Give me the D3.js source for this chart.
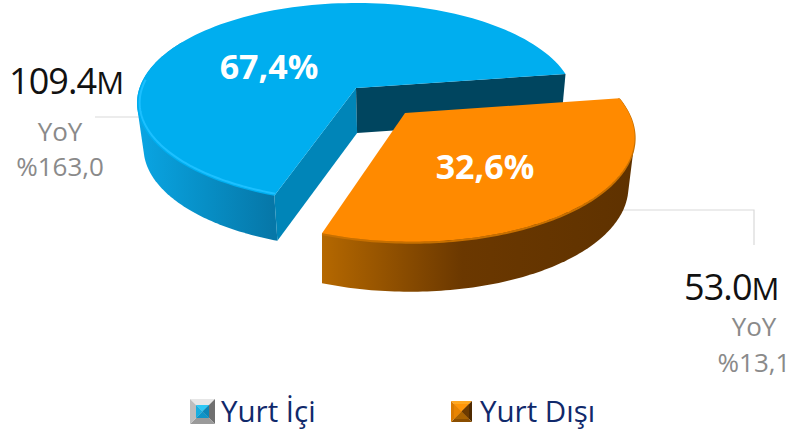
<!DOCTYPE html>
<html>
<head>
<meta charset="utf-8">
<script src="https://cdn.jsdelivr.net/npm/d3@7"></script>
<style>
  html, body { margin: 0; padding: 0; background: #fff; }
  svg { display: block; }
  text { font-family: "Open Sans", sans-serif; }
</style>
</head>
<body>
<svg id="chart"></svg>
<script>
// data
const categories = ["Yurt İçi", "Yurt Dışı"];
const shares = [67.4, 32.6];
const amounts = ["109.4", "53.0"];
const yoyLabels = ["%163,0", "%13,1"];

const width = 795;
const height = 433;
const deg = Math.PI / 180;

const svg = d3.select("#chart").attr("width", width).attr("height", height);
const defs = svg.append("defs");

// pie layout, the blue slice starts at the lower cut and goes round clockwise
const pieStart = 198.9 * deg;
const slices = d3.pie().sort(null).startAngle(pieStart).endAngle(pieStart + 2 * Math.PI)(shares);

// perspective view of the pie disc, one per slice because orange is pulled out
const views = [
  {x0: 356, y0: 88, a: 216.5, s: 0, b: 97.75, k: 0.15, depth: 45, vx: 400, shrink: 0.975},
  {x0: 405, y0: 113, a: 223.8, s: -5.5, b: 103, k: 0.2, depth: 50, vx: 322, shrink: 0.98}
];

function project(view, angle, lower) {
  const u = Math.sin(angle);
  const v = Math.cos(angle);
  const w = 1 + view.k * v;
  const x = view.x0 + (view.a * u + view.s * v) / w;
  const y = view.y0 - view.b * v / w;
  return lower ? [view.vx + (x - view.vx) * view.shrink, y + view.depth] : [x, y];
}

function arcPoints(view, a0, a1, lower) {
  return d3.range(0, 121).map(i => project(view, a0 + (a1 - a0) * i / 120, lower));
}

const line = d3.line();
const closed = pts => line(pts) + "Z";

function wallGradient(id, x1, x2, stops) {
  const g = defs.append("linearGradient").attr("id", id)
    .attr("gradientUnits", "userSpaceOnUse")
    .attr("x1", x1).attr("x2", x2).attr("y1", 0).attr("y2", 0);
  stops.forEach(d => g.append("stop").attr("offset", d[0]).attr("stop-color", d[1]));
}
wallGradient("wall-blue", 136, 273, [[0, "#0aa6e4"], [0.5, "#078fc6"], [1, "#0677a8"]]);
wallGradient("wall-orange", 322, 633, [[0, "#b56800"], [0.45, "#6b3800"], [1, "#5f3200"]]);

// leader lines go behind the pie
const leaderLines = [
  [[95, 117], [140, 117]],
  [[615, 210], [754, 210], [754, 245]]
];
svg.selectAll(".leader").data(leaderLines).enter().append("path")
  .attr("class", "leader")
  .attr("d", line)
  .attr("fill", "none").attr("stroke", "#d9d9d9").attr("stroke-width", 1.2);

// the wall is the hull of the top and bottom arc, the top face hides the far side
function wallPath(view, a0, a1) {
  return closed(d3.polygonHull(arcPoints(view, a0, a1, false).concat(arcPoints(view, a0, a1, true))));
}

// blue slice
const blue = slices[0];
const blueView = views[0];
const apex = [blueView.x0, blueView.y0];
const apexLow = [blueView.vx + (apex[0] - blueView.vx) * blueView.shrink, apex[1] + blueView.depth];

svg.append("path")
  .attr("d", wallPath(blueView, blue.startAngle, 300 * deg))
  .attr("fill", "url(#wall-blue)");
svg.append("path")
  .attr("d", closed([apex, project(blueView, blue.startAngle, false), project(blueView, blue.startAngle, true), apexLow]))
  .attr("fill", "#0085b8");
svg.append("path")
  .attr("d", closed([apex, project(blueView, blue.endAngle, false), project(blueView, blue.endAngle, true), apexLow]))
  .attr("fill", "#00455f");
svg.append("path")
  .attr("d", closed([apex].concat(arcPoints(blueView, blue.startAngle, blue.endAngle, false))))
  .attr("fill", "#00aeef");
// light rim just inside the near edge
svg.append("path")
  .attr("d", line(arcPoints(blueView, blue.startAngle, 275 * deg, false)
    .map(d => [d[0] + (apex[0] - d[0]) * 0.012, d[1] + (apex[1] - d[1]) * 0.02])))
  .attr("fill", "none").attr("stroke", "#1cc0ff").attr("stroke-width", 2);

// orange slice
const orange = slices[1];
const orangeView = views[1];
const orangeApex = [orangeView.x0, orangeView.y0];

svg.append("path")
  .attr("d", wallPath(orangeView, orange.startAngle, orange.endAngle))
  .attr("fill", "url(#wall-orange)");
svg.append("path")
  .attr("d", line(arcPoints(orangeView, orange.startAngle, orange.endAngle, false).map(d => [d[0], d[1] + 1])))
  .attr("fill", "none").attr("stroke", "#c77000").attr("stroke-width", 2);
svg.append("path")
  .attr("d", closed([orangeApex].concat(arcPoints(orangeView, orange.startAngle, orange.endAngle, false))))
  .attr("fill", "#ff8a00");

// percent labels on the slices
const percentPos = [[269, 79], [485, 179]];
svg.selectAll(".pct").data(shares).enter().append("text")
  .attr("class", "pct")
  .attr("x", (d, i) => percentPos[i][0])
  .attr("y", (d, i) => percentPos[i][1])
  .attr("text-anchor", "middle")
  .attr("font-size", 34).attr("font-weight", 700).attr("fill", "#fff")
  .text(d => d.toFixed(1).replace(".", ",") + "%");

// value labels
const amountPos = [[9, 94], [684, 300]];
const amountText = svg.selectAll(".amount").data(amounts).enter().append("text")
  .attr("class", "amount")
  .attr("x", (d, i) => amountPos[i][0])
  .attr("y", (d, i) => amountPos[i][1])
  .attr("font-size", 36).attr("fill", "#111").attr("letter-spacing", -0.9)
  .text(d => d);
amountText.append("tspan").attr("font-size", 31).text("M");

// YoY labels
const yoyPos = [[60, 141, 60, 176], [754, 336, 754, 372]];
const grey = "#8a8a8a";
svg.selectAll(".yoy").data(yoyLabels).enter().append("text")
  .attr("class", "yoy")
  .attr("x", (d, i) => yoyPos[i][0]).attr("y", (d, i) => yoyPos[i][1])
  .attr("text-anchor", "middle").attr("font-size", 26).attr("fill", grey)
  .text("YoY");
svg.selectAll(".yoyv").data(yoyLabels).enter().append("text")
  .attr("class", "yoyv")
  .attr("x", (d, i) => yoyPos[i][2]).attr("y", (d, i) => yoyPos[i][3])
  .attr("text-anchor", "middle").attr("font-size", 26).attr("fill", grey)
  .text(d => d);

// legend with small bevelled squares
const legendItems = [
  {x: 190, y: 399, size: 25, inset: 6, textX: 221},
  {x: 451, y: 401, size: 21, inset: 3, textX: 480}
];
const bevels = [
  ["#e6e6e6", "#707070", "#9a9a9a", "#bdbdbd", "#2cc8f6", "#0c86b8", "#0e94c8", "#18aee0"],
  ["#ffa820", "#4f2a00", "#8a4e00", "#d97a00", "#ff9608", "#6b3a00", "#a86200", "#e88400"]
];
const legend = svg.selectAll(".legend").data(categories).enter().append("g")
  .attr("class", "legend");
legend.each(function(d, i) {
  const item = legendItems[i];
  const g = d3.select(this).append("g").attr("transform", `translate(${item.x},${item.y})`);
  const size = item.size;
  const c = bevels[i];
  const mid = size / 2;
  const tri = (pts, fill) => g.append("path").attr("d", closed(pts)).attr("fill", fill);
  tri([[0, 0], [size, 0], [mid, mid]], c[0]);
  tri([[size, 0], [size, size], [mid, mid]], c[1]);
  tri([[0, size], [size, size], [mid, mid]], c[2]);
  tri([[0, 0], [0, size], [mid, mid]], c[3]);
  const a = item.inset, b = size - item.inset;
  tri([[a, a], [b, a], [mid, mid]], c[4]);
  tri([[b, a], [b, b], [mid, mid]], c[5]);
  tri([[a, b], [b, b], [mid, mid]], c[6]);
  tri([[a, a], [a, b], [mid, mid]], c[7]);
  d3.select(this).append("text").attr("x", item.textX).attr("y", 422)
    .attr("font-size", 29.5).attr("fill", "#10296b")
    .text(d);
});
</script>
</body>
</html>
